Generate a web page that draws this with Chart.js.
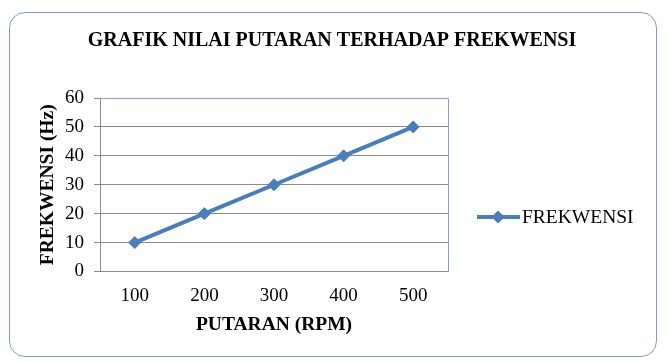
<!DOCTYPE html>
<html>
<head>
<meta charset="utf-8">
<script src="https://cdn.jsdelivr.net/npm/chart.js@4/dist/chart.umd.min.js"></script>
<style>
  html, body { margin: 0; padding: 0; background: #fff; }
  #wrap { position: relative; width: 669px; height: 362px; }
  #frame {
    position: absolute; left: 9px; top: 12px; width: 648px; height: 345px;
    border: 1.5px solid #7f9dcc; border-radius: 16px; box-sizing: border-box;
  }
  canvas { position: absolute; left: 0; top: 0; }
</style>
</head>
<body>
<div id="wrap">
  <div id="frame"></div>
  <canvas id="chart" width="669" height="362"></canvas>
</div>
<script>
(() => {
  "use strict";

  // Data
  const categories = ["100", "200", "300", "400", "500"];
  const frekwensi = [10, 20, 30, 40, 50];
  const yMin = 0, yMax = 60, yStep = 10;

  const titleText = "GRAFIK NILAI PUTARAN TERHADAP FREKWENSI";
  const xTitle = "PUTARAN (RPM)";
  const yTitle = "FREKWENSI (Hz)";
  const seriesName = "FREKWENSI";

  const SERIF = "'Liberation Serif', 'Times New Roman', serif";
  const BLUE = "#4a7ebb";
  const GRID = "#8a8a8a";

  // Title, plot border and legend drawn on the canvas
  const decor = {
    id: "decor",
    beforeDatasetsDraw(chart) {
      const { ctx, chartArea: a } = chart;
      ctx.save();
      ctx.strokeStyle = "#86a2cc";
      ctx.lineWidth = 1;
      ctx.beginPath();
      ctx.moveTo(a.left, Math.round(a.top) + 0.5);
      ctx.lineTo(Math.round(a.right) + 0.5, Math.round(a.top) + 0.5);
      ctx.lineTo(Math.round(a.right) + 0.5, a.bottom);
      ctx.stroke();
      ctx.restore();
    },
    afterDraw(chart) {
      const { ctx } = chart;
      ctx.save();
      // title
      ctx.fillStyle = "#000";
      ctx.font = `bold 20px ${SERIF}`;
      ctx.textAlign = "center";
      ctx.textBaseline = "middle";
      ctx.fillText(titleText, 332, 41);

      // legend
      const ly = 217;
      ctx.strokeStyle = BLUE;
      ctx.lineWidth = 4;
      ctx.beginPath();
      ctx.moveTo(477, ly);
      ctx.lineTo(520, ly);
      ctx.stroke();
      ctx.fillStyle = BLUE;
      ctx.beginPath();
      ctx.moveTo(498 - 6.5, ly);
      ctx.lineTo(498, ly - 6.5);
      ctx.lineTo(498 + 6.5, ly);
      ctx.lineTo(498, ly + 6.5);
      ctx.closePath();
      ctx.fill();
      ctx.fillStyle = "#000";
      ctx.font = `19.5px ${SERIF}`;
      ctx.textAlign = "left";
      ctx.fillText(seriesName, 522, ly + 1);
      ctx.restore();
    }
  };

  new Chart(document.getElementById("chart"), {
    type: "line",
    data: {
      labels: categories,
      datasets: [{
        label: seriesName,
        data: frekwensi,
        borderColor: BLUE,
        backgroundColor: BLUE,
        borderWidth: 4,
        pointStyle: "rectRot",
        pointRadius: 6,
        pointBorderWidth: 1,
        pointBackgroundColor: BLUE,
        pointBorderColor: BLUE,
        tension: 0
      }]
    },
    options: {
      responsive: false,
      animation: false,
      devicePixelRatio: 1,
      layout: { padding: { top: 98, right: 221, bottom: 0, left: 0 } },
      plugins: {
        legend: { display: false },
        title: { display: false },
        tooltip: { enabled: false }
      },
      scales: {
        x: {
          type: "category",
          offset: true,
          grid: { display: false, drawTicks: false },
          border: { display: true, color: GRID, width: 1 },
          ticks: {
            color: "#000",
            font: { family: SERIF, size: 19 },
            padding: 13,
            autoSkip: false,
            maxRotation: 0
          },
          title: {
            display: true,
            text: xTitle,
            color: "#000",
            font: { family: SERIF, size: 19.5, weight: "bold" },
            padding: { top: 0, bottom: 25 }
          },
          afterFit: (s) => { s.height = 90.5; }
        },
        y: {
          min: yMin,
          max: yMax,
          grid: { color: GRID, lineWidth: 1, tickLength: 6, drawTicks: true },
          border: { display: true, color: GRID, width: 1 },
          ticks: {
            stepSize: yStep,
            color: "#000",
            font: { family: SERIF, size: 19 },
            padding: 10
          },
          title: {
            display: true,
            text: yTitle,
            color: "#000",
            font: { family: SERIF, size: 19.5, weight: "bold" },
            padding: { top: 36, bottom: 0 }
          },
          afterFit: (s) => { s.width = 100; }
        }
      }
    },
    plugins: [decor]
  });
})();
</script>
</body>
</html>
